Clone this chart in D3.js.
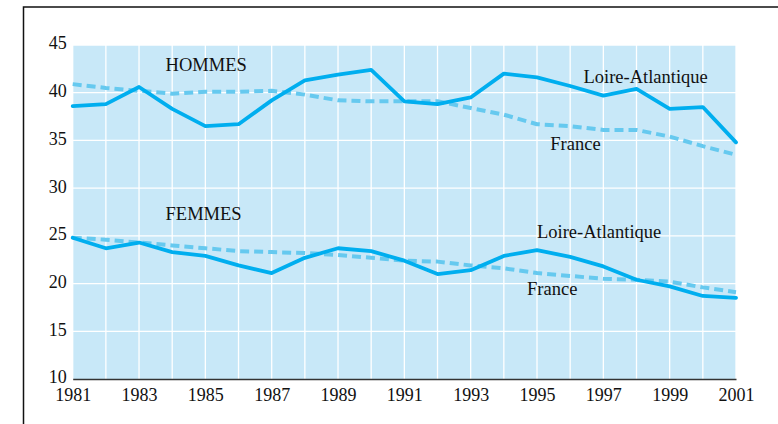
<!DOCTYPE html>
<html><head><meta charset="utf-8">
<script src="https://cdn.jsdelivr.net/npm/d3@7"></script>
<style>body{margin:0;background:#fff}svg{display:block}text{font-family:"Liberation Serif","Times New Roman",serif;fill:#111}</style>
</head><body>
<svg id="c" width="778" height="424"></svg>
<script>
const years = d3.range(1981, 2002);
const xTicks = [1981,1983,1985,1987,1989,1991,1993,1995,1997,1999,2001];
const yTicks = [10,15,20,25,30,35,40,45];
const hommesLA = [38.6,38.8,40.6,38.3,36.5,36.7,39.2,41.3,41.9,42.4,39.1,38.8,39.5,42.0,41.6,40.7,39.7,40.4,38.3,38.5,34.8];
const hommesFR = [40.9,40.5,40.2,39.9,40.1,40.1,40.2,39.8,39.2,39.1,39.1,39.1,38.4,37.7,36.7,36.5,36.1,36.1,35.4,34.4,33.5];
const femmesLA = [24.8,23.7,24.3,23.3,22.9,21.9,21.1,22.7,23.7,23.4,22.4,21.0,21.4,22.9,23.5,22.8,21.8,20.4,19.7,18.7,18.5];
const femmesFR = [24.8,24.6,24.3,24.0,23.7,23.4,23.3,23.2,23.0,22.7,22.4,22.3,21.9,21.6,21.1,20.8,20.5,20.4,20.2,19.6,19.1];
const labels = [
  {t:"HOMMES", year:1983.8, v:42.3},
  {t:"FEMMES", year:1983.8, v:26.7},
  {t:"Loire-Atlantique", year:1996.4, v:41.0},
  {t:"France", year:1995.4, v:34.0},
  {t:"Loire-Atlantique", year:1995.0, v:24.8},
  {t:"France", year:1994.7, v:18.8}
];

const svg = d3.select("#c");
const x = d3.scaleLinear().domain([1981,2001]).range([72.7,736]);
const y = d3.scaleLinear().domain([10,45]).range([379,45]);

// frame
svg.append("path").attr("d","M23.5,424 V7 H778").attr("fill","none").attr("stroke","#111").attr("stroke-width",1.5);

svg.append("rect").attr("x",x(1981)).attr("y",y(45)).attr("width",x(2001)-x(1981)).attr("height",y(10)-y(45)).attr("fill","#c8e8f8");

const g = svg.append("g");
g.selectAll(".vg").data(years).join("line")
  .attr("x1",d=>x(d)).attr("x2",d=>x(d)).attr("y1",y(45)).attr("y2",y(10))
  .attr("stroke","#fff").attr("stroke-width",1.3);
g.selectAll(".hg").data(yTicks.filter(d=>d>10)).join("line")
  .attr("x1",x(1981)).attr("x2",x(2001)).attr("y1",d=>y(d)).attr("y2",d=>y(d))
  .attr("stroke","#fff").attr("stroke-width",1.3);

// axes
const xa = svg.append("g").attr("transform",`translate(0,${y(10)})`)
  .call(d3.axisBottom(x).tickValues(xTicks).tickFormat(d3.format("d")).tickSize(0).tickPadding(9));
xa.select(".domain").attr("stroke","#333").attr("stroke-width",1.5);
xa.selectAll("text").attr("font-size",18).style("font-family","Liberation Serif, serif").attr("fill","#111");

const ya = svg.append("g").attr("transform",`translate(${x(1981)},0)`)
  .call(d3.axisLeft(y).tickValues(yTicks).tickSize(0).tickPadding(6));
ya.select(".domain").remove();
ya.selectAll("text").attr("font-size",18).attr("dy","0.22em").style("font-family","Liberation Serif, serif").attr("fill","#111");

const line = d3.line().x((d,i)=>x(years[i])).y(d=>y(d));
[[hommesFR,true],[femmesFR,true],[hommesLA,false],[femmesLA,false]].forEach(([s,dash])=>{
  const p = svg.append("path").datum(s).attr("d",line).attr("fill","none")
    .attr("stroke-linejoin","round");
  if(dash) p.attr("stroke","#66c9ef").attr("stroke-width",4).attr("stroke-dasharray","9,5");
  else p.attr("stroke","#00aeef").attr("stroke-width",3.8).attr("stroke-linecap","round");
});

svg.selectAll(".lbl").data(labels).join("text")
  .attr("x",d=>x(d.year)).attr("y",d=>y(d.v)).attr("font-size",18.5).text(d=>d.t);
</script>
</body></html>
